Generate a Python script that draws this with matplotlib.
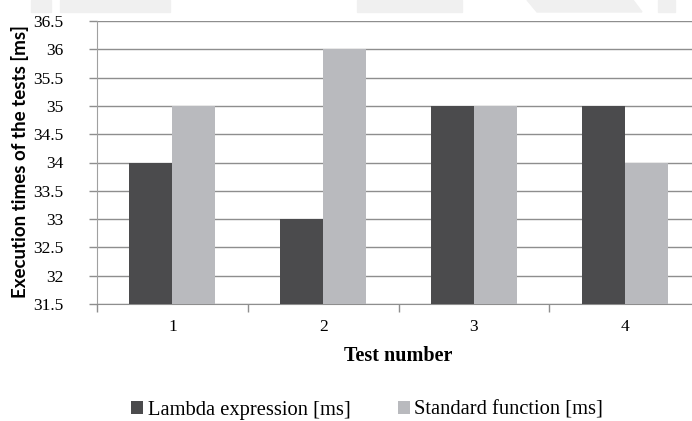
import matplotlib
matplotlib.use("Agg")
import matplotlib.pyplot as plt
import numpy as np
from matplotlib.patches import Rectangle, Polygon

tests = ["1", "2", "3", "4"]
lambda_vals = [34, 33, 35, 35]
standard_vals = [35, 36, 35, 34]
series_names = ["Lambda expression [ms]", "Standard function [ms]"]
y_ticks = [31.5, 32, 32.5, 33, 33.5, 34, 34.5, 35, 35.5, 36, 36.5]

plt.rcParams["font.family"] = ["Liberation Serif", "DejaVu Serif"]

W, H = 692, 421
fig = plt.figure(figsize=(W / 100, H / 100), dpi=100)

# faint watermark shapes at top
wm = "#f0f0f0"
for x0, x1 in [(31, 51), (60, 170), (357, 462), (658, 675)]:
    fig.patches.append(Rectangle((x0 / W, 1 - 12 / H), (x1 - x0) / W, 12 / H,
                                 transform=fig.transFigure, color=wm, zorder=0))
fig.patches.append(Polygon([(527 / W, 1), (633 / W, 1), (642 / W, 1 - 12 / H), (537 / W, 1 - 12 / H)],
                           closed=True, transform=fig.transFigure, color=wm, zorder=0))

ax = fig.add_axes([97 / W, (H - 304) / H, 603 / W, 283 / H])

x = np.arange(len(tests))
bw = 1 / 3.5
dark = "#4b4b4d"
light = "#b9babe"
ax.bar(x - bw / 2, np.array(lambda_vals) - 31.5, bw, bottom=31.5, color=dark, label=series_names[0], zorder=3)
ax.bar(x + bw / 2, np.array(standard_vals) - 31.5, bw, bottom=31.5, color=light, label=series_names[1], zorder=3)

ax.set_xlim(-0.5, len(tests) - 0.5)
ax.set_ylim(31.5, 36.5)
ax.set_yticks(y_ticks)
ax.set_yticklabels([f"{v:g}" for v in y_ticks])
ax.yaxis.grid(True, color="#8e8e8e", linewidth=1.0, zorder=0)
ax.set_axisbelow(True)

ax.set_xticks(x)
ax.set_xticklabels(tests)
ax.set_xticks(np.arange(len(tests) + 1) - 0.5, minor=True)
ax.tick_params(axis="both", which="major", labelsize=12.5)
ax.tick_params(axis="x", which="major", length=0, pad=11)
ax.tick_params(axis="x", which="minor", length=6, color="#8e8e8e", width=1)
ax.tick_params(axis="y", length=6, color="#8e8e8e", width=1, pad=18)

for s in ["top", "right"]:
    ax.spines[s].set_visible(False)
ax.spines["left"].set_color("#a0a0a0")
ax.spines["bottom"].set_color("#8e8e8e")

ax.set_xlabel("Test number", fontweight="bold", fontsize=14.5, labelpad=8)
fig.text(20 / W, (H - 162) / H, "Execution times of the tests [ms]", rotation=90,
         ha="center", va="center", fontfamily="Lato", fontweight="bold", fontsize=13.5)

fig.legend(loc="center", bbox_to_anchor=(367 / W, (H - 410) / H), ncol=2, frameon=False,
           prop={"family": "Liberation Serif", "size": 14.8}, handlelength=0.6, handleheight=0.6,
           handletextpad=0.2, columnspacing=2.3, borderaxespad=0)

fig.savefig("out.png", dpi=100)
